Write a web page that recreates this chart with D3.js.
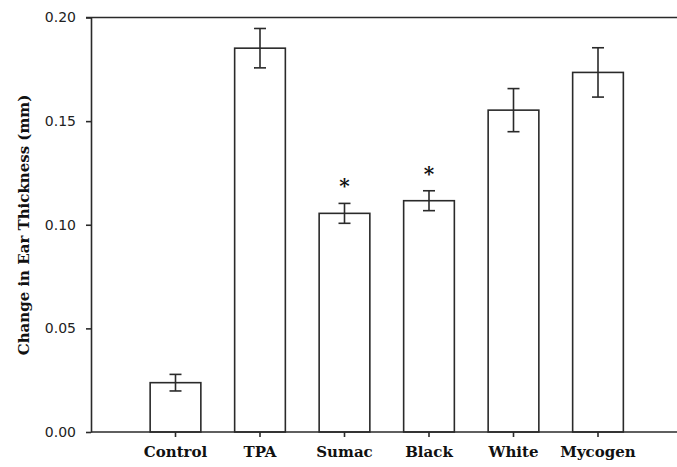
<!DOCTYPE html>
<html>
<head>
<meta charset="utf-8">
<script src="https://cdn.jsdelivr.net/npm/d3@7"></script>
<style>
  body { margin: 0; background: #fff; }
  svg { display: block; }
</style>
</head>
<body>
<script>
// treatments and mean ear thickness change (mm) with SE
const categories = ['Control', 'TPA', 'Sumac', 'Black', 'White', 'Mycogen']
const means = [0.0238, 0.1852, 0.1055, 0.1116, 0.1553, 0.1735]
const errors = [0.0040, 0.0095, 0.0048, 0.0048, 0.0104, 0.0119]
const significant = [false, false, true, true, false, false]
const yTicks = [0.00, 0.05, 0.10, 0.15, 0.20]

const W = 677, H = 467
const plotLeft = 91, plotTop = 17.5, plotBottom = 432

const svg = d3.select('body').append('svg')
  .attr('width', W)
  .attr('height', H)

// positions 1..6 on a linear axis, same as the original plot
const x = d3.scaleLinear().domain([0, 7]).range([plotLeft, plotLeft + 7 * 84.5])
const y = d3.scaleLinear().domain([0, 0.2]).range([plotBottom, plotTop])
const barW = x(0.6) - x(0)

const ink = '#2a2a2a'

const g = svg.append('g')

// bars
g.selectAll('.bar')
  .data(means)
  .enter().append('rect')
    .attr('class', 'bar')
    .attr('x', (d, i) => x(i + 1) - barW / 2)
    .attr('y', d => y(d))
    .attr('width', barW)
    .attr('height', d => y(0) - y(d))
    .attr('fill', '#fff')
    .attr('stroke', ink)
    .attr('stroke-width', 1.6)

// error bars
const eb = g.selectAll('.err')
  .data(means)
  .enter().append('g')
    .attr('class', 'err')
    .attr('stroke', ink)
    .attr('stroke-width', 1.6)

eb.append('line')
  .attr('x1', (d, i) => x(i + 1)).attr('x2', (d, i) => x(i + 1))
  .attr('y1', (d, i) => y(d + errors[i])).attr('y2', (d, i) => y(d - errors[i]))
eb.append('line')
  .attr('x1', (d, i) => x(i + 1) - 6).attr('x2', (d, i) => x(i + 1) + 6)
  .attr('y1', (d, i) => y(d + errors[i])).attr('y2', (d, i) => y(d + errors[i]))
eb.append('line')
  .attr('x1', (d, i) => x(i + 1) - 6).attr('x2', (d, i) => x(i + 1) + 6)
  .attr('y1', (d, i) => y(d - errors[i])).attr('y2', (d, i) => y(d - errors[i]))

// significance stars
g.selectAll('.star')
  .data(means.map((d, i) => ({ d, i })).filter(o => significant[o.i]))
  .enter().append('text')
    .attr('class', 'star')
    .attr('x', o => x(o.i + 1))
    .attr('y', o => y(o.d + errors[o.i]) - 10)
    .attr('text-anchor', 'middle')
    .style('font-family', 'DejaVu Serif')
    .style('font-weight', 'bold')
    .style('font-size', '20px')
    .attr('fill', '#111')
    .text('*')

// y axis
const yAxis = svg.append('g')
  .attr('transform', `translate(${plotLeft},0)`)
  .call(d3.axisLeft(y).tickValues(yTicks).tickFormat(d3.format('.2f')).tickSize(5).tickSizeOuter(0))
yAxis.select('.domain').attr('stroke', ink).attr('stroke-width', 1.6)
yAxis.selectAll('.tick line').attr('stroke', ink).attr('stroke-width', 1.6)
yAxis.selectAll('.tick text')
  .attr('x', -15)
  .attr('fill', '#222')
  .style('font-family', 'DejaVu Sans')
  .style('font-size', '14px')

// x axis, runs off the right edge like the original
svg.append('line')
  .attr('x1', plotLeft).attr('x2', W)
  .attr('y1', plotBottom).attr('y2', plotBottom)
  .attr('stroke', ink).attr('stroke-width', 1.6)
// top frame line
svg.append('line')
  .attr('x1', plotLeft - 5).attr('x2', W)
  .attr('y1', plotTop).attr('y2', plotTop)
  .attr('stroke', ink).attr('stroke-width', 1.6)

const xt = svg.append('g')
xt.selectAll('line')
  .data(categories)
  .enter().append('line')
    .attr('x1', (d, i) => x(i + 1)).attr('x2', (d, i) => x(i + 1))
    .attr('y1', plotBottom).attr('y2', plotBottom + 5)
    .attr('stroke', ink).attr('stroke-width', 1.6)
xt.selectAll('text')
  .data(categories)
  .enter().append('text')
    .attr('x', (d, i) => x(i + 1))
    .attr('y', 457)
    .attr('text-anchor', 'middle')
    .attr('fill', '#111')
    .style('font-family', 'DejaVu Serif')
    .style('font-weight', 'bold')
    .style('font-size', '15px')
    .text(d => d)

// y label
svg.append('text')
  .attr('transform', 'translate(29,225) rotate(-90)')
  .attr('text-anchor', 'middle')
  .attr('fill', '#111')
  .style('font-family', 'DejaVu Serif')
  .style('font-weight', 'bold')
  .style('font-size', '15px')
  .text('Change in Ear Thickness (mm)')
</script>
</body>
</html>
